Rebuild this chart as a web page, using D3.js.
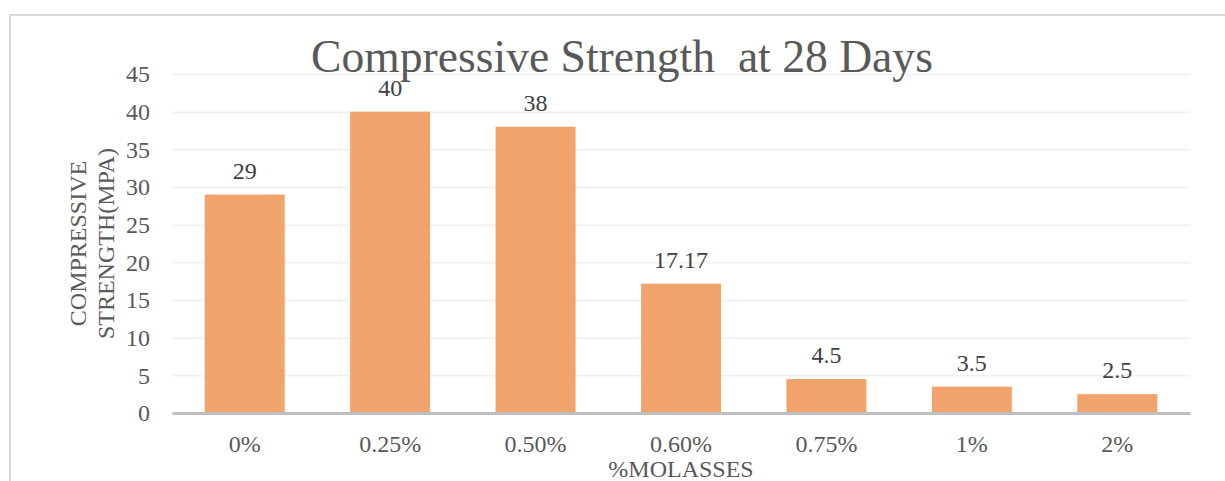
<!DOCTYPE html>
<html>
<head>
<meta charset="utf-8">
<script src="https://cdn.jsdelivr.net/npm/d3@7"></script>
<style>
  html, body { margin: 0; padding: 0; background: #fff; }
  svg { display: block; }
  text { font-family: "Liberation Serif", "Times New Roman", serif; }
</style>
</head>
<body>
<svg id="chart" width="1225" height="481"></svg>
<script>
const categories = ["0%", "0.25%", "0.50%", "0.60%", "0.75%", "1%", "2%"];
const values = [29, 40, 38, 17.17, 4.5, 3.5, 2.5];
const valueLabels = ["29", "40", "38", "17.17", "4.5", "3.5", "2.5"];
const yTicks = [0, 5, 10, 15, 20, 25, 30, 35, 40, 45];
const titleText = "Compressive Strength\u00a0\u00a0at 28 Days";
const xTitle = "%MOLASSES";
const yTitleLines = ["COMPRESSIVE", "STRENGTH(MPA)"];

const FONT = '"Liberation Serif", "Times New Roman", serif';
const svg = d3.select("#chart");
const pLeft = 172, pRight = 1190, pTop = 74, pBottom = 413;

// outer chart border
svg.append("path")
  .attr("d", `M10,482 L10,15 L1226,15`)
  .attr("fill", "none").attr("stroke", "#d9d9d9").attr("stroke-width", 2);

const x = d3.scaleBand().domain(categories).range([pLeft, pRight]).paddingInner(0.45).paddingOuter(0.225);
const y = d3.scaleLinear().domain([0, 45]).range([pBottom, pTop]);

// gridlines + y tick labels
const yAxis = d3.axisLeft(y).tickValues(yTicks).tickSize(-(pRight - pLeft)).tickPadding(22).tickFormat(d3.format("d"));
const gy = svg.append("g").attr("transform", `translate(${pLeft},0)`).call(yAxis);
gy.select(".domain").remove();
gy.selectAll(".tick line").attr("stroke", "#efefef").attr("stroke-width", 1.5);
gy.selectAll(".tick text").attr("fill", "#595959").attr("font-size", 24)
  .style("font-family", FONT).attr("dy", "0.32em");

// title
svg.append("text")
  .attr("x", 622).attr("y", 72)
  .attr("text-anchor", "middle")
  .attr("font-size", 45.6)
  .style("font-family", FONT)
  .attr("fill", "#595959")
  .text(titleText);

// bars
svg.append("g").selectAll("rect").data(values).join("rect")
  .attr("x", (d, i) => x(categories[i]))
  .attr("width", x.bandwidth())
  .attr("y", d => y(d))
  .attr("height", d => y(0) - y(d))
  .attr("fill", "#f0a46c");

// data labels
svg.append("g").selectAll("text").data(values).join("text")
  .attr("x", (d, i) => x(categories[i]) + x.bandwidth() / 2)
  .attr("y", d => y(d) - 16)
  .attr("text-anchor", "middle")
  .attr("font-size", 24)
  .style("font-family", FONT)
  .attr("fill", "#404040")
  .text((d, i) => valueLabels[i]);

// x axis
const xAxis = d3.axisBottom(x).tickSize(0).tickPadding(22);
const gx = svg.append("g").attr("transform", `translate(0,${pBottom})`).call(xAxis);
gx.select(".domain").attr("stroke", "#bfbfbf").attr("stroke-width", 3);
gx.selectAll(".tick text").attr("fill", "#595959").attr("font-size", 24)
  .style("font-family", FONT);

// x axis title
svg.append("text")
  .attr("x", (pLeft + pRight) / 2).attr("y", 477)
  .attr("text-anchor", "middle")
  .attr("font-size", 24)
  .style("font-family", FONT)
  .attr("fill", "#595959")
  .text(xTitle);

// y axis title
const yt = svg.append("text")
  .attr("transform", `translate(0,${(pTop + pBottom) / 2}) rotate(-90)`)
  .attr("text-anchor", "middle")
  .attr("font-size", 24)
  .style("font-family", FONT)
  .attr("fill", "#595959");
yTitleLines.forEach((t, i) => {
  yt.append("tspan").attr("x", 0).attr("y", 86 + i * 28).text(t);
});
</script>
</body>
</html>
